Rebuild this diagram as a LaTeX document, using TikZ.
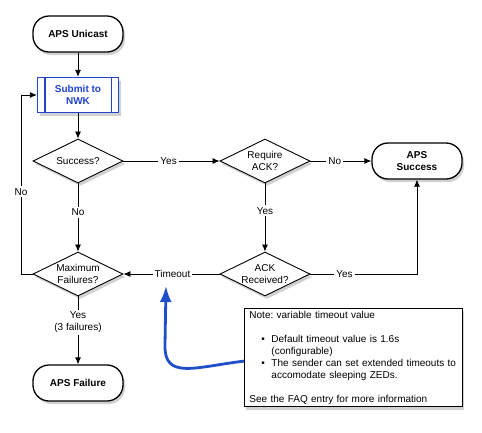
\documentclass[tikz,border=0pt]{standalone}
\usepackage{fontspec}
\setmainfont{Liberation Sans}
\usetikzlibrary{shapes.geometric,shadows,arrows.meta}
\definecolor{nwkblue}{HTML}{2244CC}
\definecolor{curveblue}{HTML}{1F4FC8}
\frenchspacing
\begin{document}
\begin{tikzpicture}[x=1pt,y=-1pt,
  font=\fontsize{10}{12}\selectfont,
  shad/.style={drop shadow={shadow xshift=2pt,shadow yshift=-3pt,opacity=0.3,fill=black!60}},
  term/.style={draw,line width=1.3pt,fill=white,rounded corners=16pt,minimum width=90pt,minimum height=36pt,align=center,font=\fontsize{10}{11.5}\selectfont\bfseries,shad},
  decision/.style={diamond,draw,line width=0.9pt,fill=white,aspect=2,minimum width=90pt,minimum height=44pt,inner sep=0pt,align=center,shad},
  nwkbox/.style={draw=nwkblue,line width=1.3pt,fill=white,text=nwkblue,minimum width=81pt,minimum height=35pt,align=center,font=\fontsize{10}{12}\selectfont\bfseries,shad},
  conn/.style={line width=0.8pt,-{Latex[length=7pt,width=6pt]}},
  lbl/.style={fill=white,inner sep=2pt,align=center}
]
\useasboundingbox (0,0) rectangle (482,432);

\node[term] (unicast) at (78,34) {APS Unicast};
\node[nwkbox] (submit) at (78,95) {Submit to\\NWK};
\draw[nwkblue,line width=1.3pt] ([xshift=8pt]submit.north west) -- ([xshift=8pt]submit.south west);
\draw[nwkblue,line width=1.3pt] ([xshift=-8pt]submit.north east) -- ([xshift=-8pt]submit.south east);
\node[decision] (success) at (78,161) {Success?};
\node[decision] (require) at (265,161) {Require\\ACK?};
\node[term] (apssucc) at (417,161) {APS\\Success};
\node[decision] (ackrec) at (265,274) {ACK\\Received?};
\node[decision] (maxf) at (78,274) {Maximum\\Failures?};
\node[term] (apsfail) at (78,383) {APS Failure};

\node[draw,line width=0.9pt,fill=white,anchor=north west,text width=208pt,inner xsep=5pt,inner ysep=2.5pt,align=left,
  font=\fontsize{10}{12}\selectfont,shad] (note) at (244,308) {Note: variable timeout value\\[12pt]
\hspace*{12pt}\makebox[10pt][l]{•}Default timeout value is 1.6s\\
\hspace*{22pt}(configurable)\\
\hspace*{12pt}\makebox[10pt][l]{•}The sender can set extended timeouts to\\
\hspace*{22pt}accomodate sleeping ZEDs.\\[12pt]
See the FAQ entry for more information};

\draw[conn] (unicast) -- (submit);
\draw[conn] (submit) -- (success);
\draw[conn] (success.east) -- node[lbl,pos=0.47]{Yes} (require.west);
\draw[conn] (require.east) -- node[lbl,pos=0.4]{No} (apssucc.west);
\draw[conn] (require.south) -- node[lbl,pos=0.4]{Yes} (ackrec.north);
\draw[conn] (success.south) -- node[lbl,pos=0.42]{No} (maxf.north);
\draw[conn] (ackrec.west) -- node[lbl,pos=0.49]{Timeout} (maxf.east);
\draw[conn] (ackrec.east) -- node[lbl,pos=0.32]{Yes} (ackrec.east -| apssucc.south) -- (apssucc.south);
\draw[conn] (maxf.south) -- node[lbl,pos=0.38]{Yes\\(3 failures)} (apsfail.north);
\coordinate (lb) at (21,274);
\coordinate (lt) at (lb |- submit.west);
\draw[conn] (maxf.west) -- (lb) -- node[lbl,pos=0.46]{No} (lt) -- (submit.west);

\coordinate (cs) at ([yshift=-3.5pt]note.west);
\coordinate (ck) at (165,345);
\coordinate (ct) at (166,286);
\draw[curveblue,line width=2.8pt,-{Latex[length=16pt,width=12pt]}] (cs) .. controls (195,367) and (164,380) .. (ck) -- (ct);
\end{tikzpicture}
\end{document}
